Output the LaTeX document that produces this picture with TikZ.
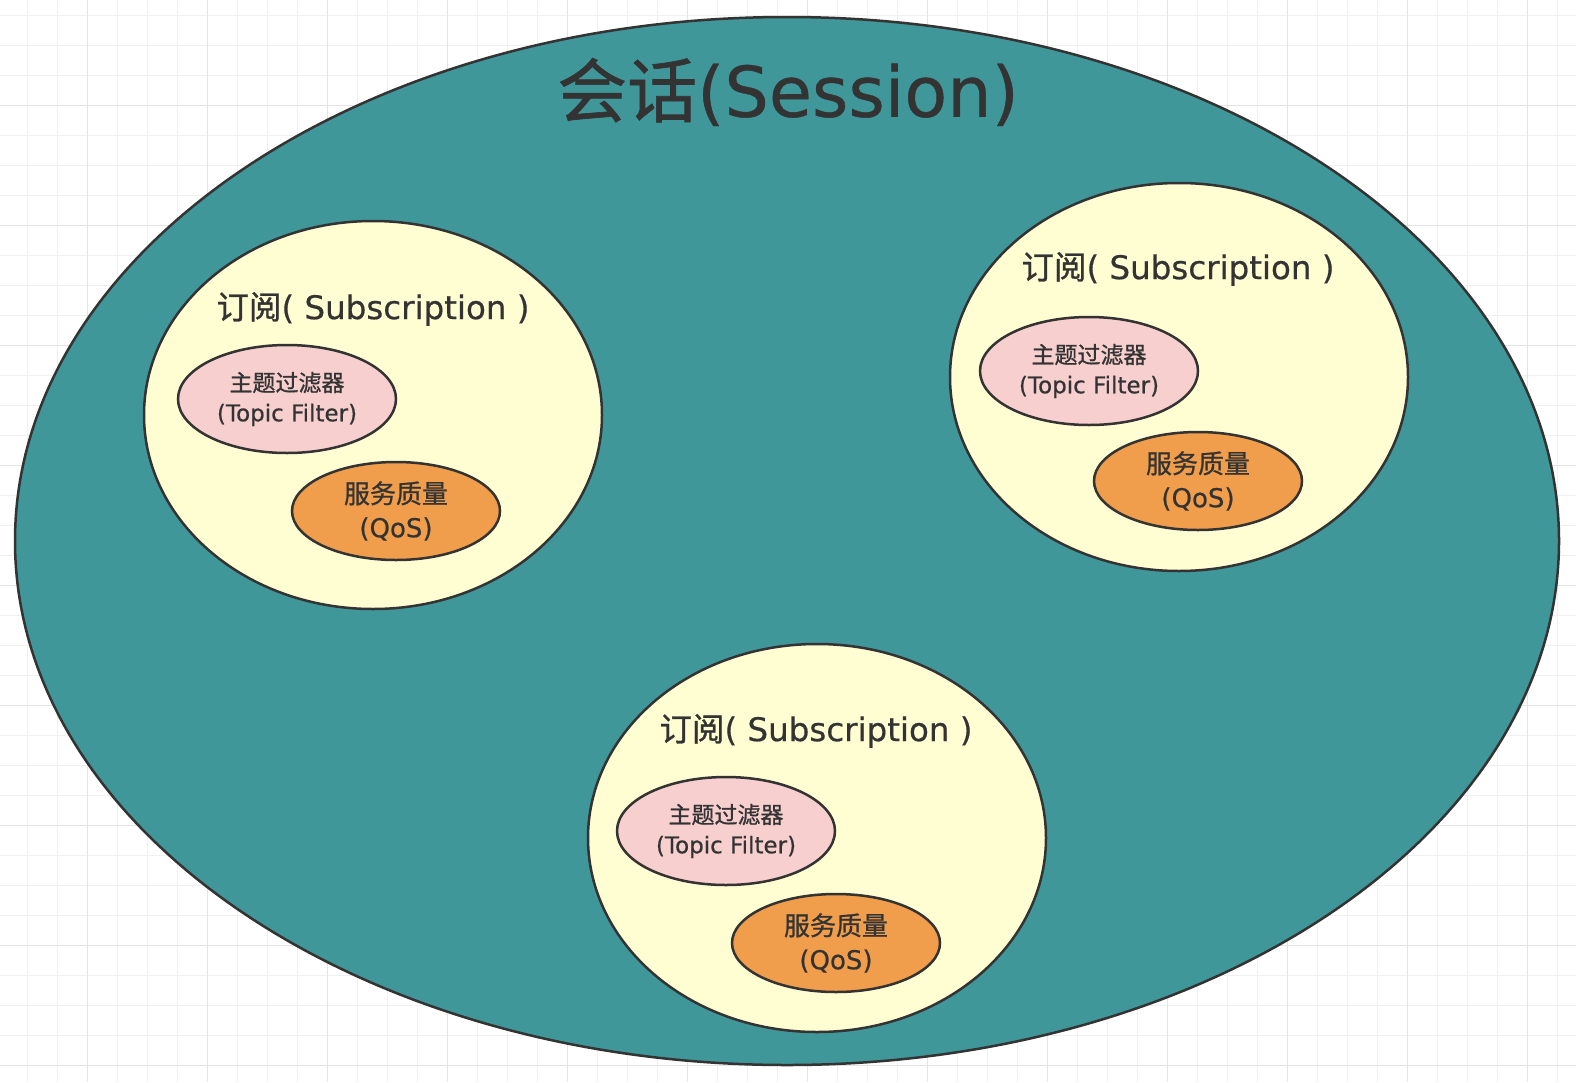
\documentclass[tikz,border=0pt]{standalone}
\usepackage{fontspec}
\usepackage{tikz}
\usetikzlibrary{shapes.geometric}
\setmainfont[FakeBold=0.5]{DejaVu Sans}
\newfontfamily\cjk[FakeBold=0.9]{Noto Sans CJK SC}
\newcommand\zh[1]{{\cjk #1}}
\definecolor{sessteal}{HTML}{40979A}
\definecolor{subyellow}{HTML}{FFFDD2}
\definecolor{topicpink}{HTML}{F7CFCE}
\definecolor{qosorange}{HTML}{F09D4C}
\definecolor{inkgray}{HTML}{333333}
\definecolor{gridminor}{HTML}{F0F0F0}
\definecolor{gridmajor}{HTML}{E4E4E4}

\begin{document}
\begin{tikzpicture}[x=1pt, y=-1pt,
  blob/.style={ellipse, draw=inkgray, line width=2.5pt, inner sep=0pt, text=inkgray, align=center},
  sess/.style={blob, fill=sessteal, minimum width=1544, minimum height=1048},
  sub/.style={blob, fill=subyellow, minimum width=458, minimum height=388},
  topic/.style={blob, fill=topicpink, minimum width=218, minimum height=108, font=\fontsize{23}{30}\selectfont},
  qos/.style={blob, fill=qosorange, minimum width=208, minimum height=98, font=\fontsize{26}{34}\selectfont},
  subtitle/.style={text=inkgray, font=\fontsize{32.5}{36}\selectfont},
  gridline/.style={gridminor, line width=1pt}]
\useasboundingbox[fill=white] (0,0) rectangle (1576,1082);
% background grid
\foreach \x in {27,57,...,1557} \draw[gridline] (\x,0) -- (\x,1082);
\foreach \y in {15,45,...,1075} \draw[gridline] (0,\y) -- (1576,\y);
\foreach \x in {87,207,...,1527} \draw[gridline, gridmajor] (\x,0) -- (\x,1082);
\foreach \y in {105,225,...,1065} \draw[gridline, gridmajor] (0,\y) -- (1576,\y);

\node[sess] (session) at (787,541) {};
\node[text=inkgray, font=\fontsize{70}{80}\selectfont] (sesstitle) at (788,92) {\zh{会话}(Session)};

% subscriptions
\node[sub] (subL) at (373,415) {};
\node[subtitle] (subLtitle) at (373,309) {\zh{订阅}( Subscription )};
\node[topic] (topicL) at (287,399) {\zh{主题过滤器}\\(Topic Filter)};
\node[qos] (qosL) at (396,511) {\zh{服务质量}\\(QoS)};

\node[sub] (subR) at (1179,377) {};
\node[subtitle] (subRtitle) at (1178,269) {\zh{订阅}( Subscription )};
\node[topic] (topicR) at (1089,371) {\zh{主题过滤器}\\(Topic Filter)};
\node[qos] (qosR) at (1198,481) {\zh{服务质量}\\(QoS)};

\node[sub] (subB) at (817,838) {};
\node[subtitle] (subBtitle) at (816,731) {\zh{订阅}( Subscription )};
\node[topic] (topicB) at (726,831) {\zh{主题过滤器}\\(Topic Filter)};
\node[qos] (qosB) at (836,943) {\zh{服务质量}\\(QoS)};
\end{tikzpicture}
\end{document}
